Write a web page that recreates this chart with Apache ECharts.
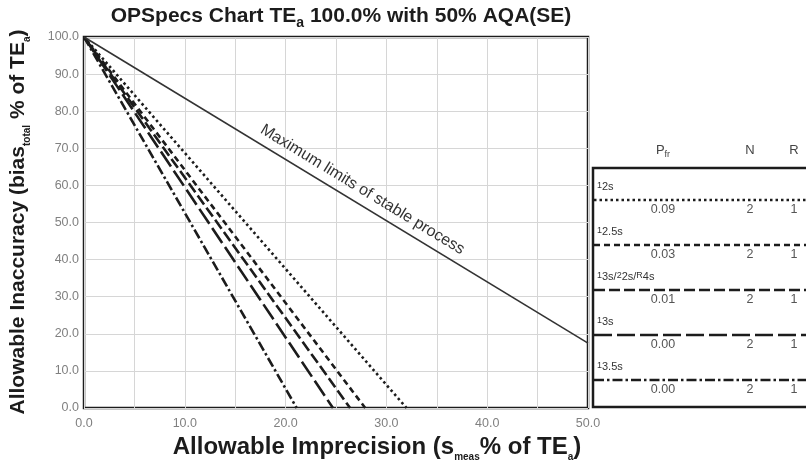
<!DOCTYPE html>
<html><head><meta charset="utf-8">
<script src="https://cdn.jsdelivr.net/npm/echarts@6/dist/echarts.min.js"></script>
<style>html,body{margin:0;padding:0;background:#fff}#c{width:806px;height:470px}</style>
</head><body><div id="c"></div>
<script>
// ---- data ----
const ruleLabels = [
  '{p|1}{b|2s}',
  '{p|1}{b|2.5s}',
  '{p|1}{b|3s}{b|/}{p|2}{b|2s}{b|/}{p|R}{b|4s}',
  '{p|1}{b|3s}',
  '{p|1}{b|3.5s}'
];
const ruleStartBias = 100.0;              // all rule lines start at s = 0, bias = 100
const ruleIntercepts = [32.0, 27.9, 26.4, 24.7, 21.1]; // s where bias reaches 0
const pfrValues = ['0.09', '0.03', '0.01', '0.00', '0.00'];
const nValues = ['2', '2', '2', '2', '2'];
const rValues = ['1', '1', '1', '1', '1'];
const maxLimitS = [0.0, 50.0];
const maxLimitBias = [100.0, 17.5];
const maxLimitText = 'Maximum limits of stable process';
const xRange = [0, 50];
const yRange = [0, 100];

// ---- styles ----
const ruleDash = [[2.5, 3], [6, 4], [11, 4], [18, 5], [10, 3, 2.5, 3]];
const INK = '#1c1c1c';
const FF = '"Liberation Sans", Arial, sans-serif';

const chart = echarts.init(document.getElementById('c'), null, {renderer: 'canvas'});

const series = ruleIntercepts.map((xi, i) => ({
  type: 'line', silent: true, symbol: 'none', animation: false,
  data: [[0, ruleStartBias], [xi, 0]],
  lineStyle: {color: INK, width: 2.6, type: ruleDash[i]}
}));
series.push({
  type: 'line', silent: true, symbol: 'none', animation: false,
  data: maxLimitS.map((s, i) => [s, maxLimitBias[i]]),
  lineStyle: {color: '#333', width: 1.6}
});

chart.setOption({
  animation: false,
  backgroundColor: '#fff',
  grid: {left: 84, right: 218, top: 37, bottom: 62, show: true,
         borderColor: INK, borderWidth: 2.5, backgroundColor: '#fff'},
  xAxis: {type: 'value', min: xRange[0], max: xRange[1], interval: 5,
    axisLine: {show: false}, axisTick: {show: false},
    splitLine: {lineStyle: {color: '#d6d6d6', width: 1}},
    axisLabel: {color: '#808080', fontFamily: FF, fontSize: 12.5, margin: 9,
      formatter: v => (v % 10 === 0 ? v.toFixed(1) : '')}},
  yAxis: {type: 'value', min: yRange[0], max: yRange[1], interval: 10,
    axisLine: {show: false}, axisTick: {show: false},
    splitLine: {lineStyle: {color: '#d6d6d6', width: 1}},
    axisLabel: {color: '#808080', fontFamily: FF, fontSize: 12.5, margin: 5,
      formatter: v => v.toFixed(1)}},
  series: series
});

// ---- texts & legend table ----
function richBold(F, subF, subDrop) {
  return {
    m: {fontSize: F, fontWeight: 'bold', fontFamily: FF, fill: INK, lineHeight: F * 1.15, verticalAlign: 'top'},
    s: {fontSize: subF, fontWeight: 'bold', fontFamily: FF, fill: INK, lineHeight: subF, padding: [subDrop, 0, 0, 0], verticalAlign: 'bottom'}
  };
}

const g = [];
// title
g.push({type: 'text', x: 341, y: 6, z: 100,
  style: {text: '{m|OPSpecs Chart TE}{s|a}{m| 100.0% with 50% AQA(SE)}', align: 'center', rich: richBold(21, 14, 12)}});
// x axis name
g.push({type: 'text', x: 377, y: 435, z: 100,
  style: {text: '{m|Allowable Imprecision (s}{s|meas}{m|% of TE}{s|a}{m|)}', align: 'center', rich: richBold(24, 10, 14)}});
// y axis name
g.push({type: 'text', x: 8, y: 222, rotation: Math.PI / 2, z: 100,
  style: {text: '{m|Allowable Inaccuracy (bias}{s|total}{m| % of TE}{s|a}{m|)}', align: 'center', verticalAlign: 'top', rich: richBold(21, 10, 13)}});

// max-limit label along the line
const p0 = chart.convertToPixel({gridIndex: 0}, [maxLimitS[0], maxLimitBias[0]]);
const p1 = chart.convertToPixel({gridIndex: 0}, [maxLimitS[1], maxLimitBias[1]]);
const ang = Math.atan2(p1[1] - p0[1], p1[0] - p0[0]);
const t = 0.538;
const cx = p0[0] + (p1[0] - p0[0]) * t, cy = p0[1] + (p1[1] - p0[1]) * t;
const off = 14;
g.push({type: 'text', x: cx + Math.sin(ang) * off, y: cy - Math.cos(ang) * off, rotation: -ang, z: 100,
  style: {text: maxLimitText, font: '16px ' + FF, fill: '#333', align: 'center', verticalAlign: 'middle'}});

// legend table
const boxL = 593, boxT = 168, boxB = 407;
g.push({type: 'rect', shape: {x: boxL, y: boxT, width: 260, height: boxB - boxT}, z: 90,
  style: {fill: '#fff', stroke: INK, lineWidth: 2.5}});
const hdrRich = {
  m: {fontSize: 13, fontFamily: FF, fill: '#444', lineHeight: 15, verticalAlign: 'top'},
  s: {fontSize: 9, fontFamily: FF, fill: '#444', lineHeight: 9, padding: [8, 0, 0, 0], verticalAlign: 'bottom'}
};
g.push({type: 'text', x: 663, y: 144, z: 100, style: {text: '{m|P}{s|fr}', rich: hdrRich, align: 'center'}});
g.push({type: 'text', x: 750, y: 144, z: 100, style: {text: '{m|N}', rich: hdrRich, align: 'center'}});
g.push({type: 'text', x: 794, y: 144, z: 100, style: {text: '{m|R}', rich: hdrRich, align: 'center'}});
const lblRich = {
  p: {fontSize: 9, fontFamily: FF, fill: '#333', lineHeight: 9, verticalAlign: 'top'},
  b: {fontSize: 11, fontFamily: FF, fill: '#333', lineHeight: 11, padding: [6, 0, 0, 0], verticalAlign: 'bottom'}
};
ruleLabels.forEach((lab, i) => {
  const ly = 200 + 45 * i;
  g.push({type: 'line', z: 95, shape: {x1: boxL + 1, y1: ly, x2: 806, y2: ly},
    style: {stroke: INK, lineWidth: 2.6, lineDash: ruleDash[i]}});
  g.push({type: 'text', x: 597, y: ly - 19, z: 100, style: {text: lab, rich: lblRich}});
  const vs = {font: '12.5px ' + FF, fill: '#555', align: 'center', verticalAlign: 'middle'};
  g.push({type: 'text', x: 663, y: ly + 10, z: 100, style: Object.assign({text: pfrValues[i]}, vs)});
  g.push({type: 'text', x: 750, y: ly + 10, z: 100, style: Object.assign({text: nValues[i]}, vs)});
  g.push({type: 'text', x: 794, y: ly + 10, z: 100, style: Object.assign({text: rValues[i]}, vs)});
});

chart.setOption({graphic: g});
</script>
</body></html>
